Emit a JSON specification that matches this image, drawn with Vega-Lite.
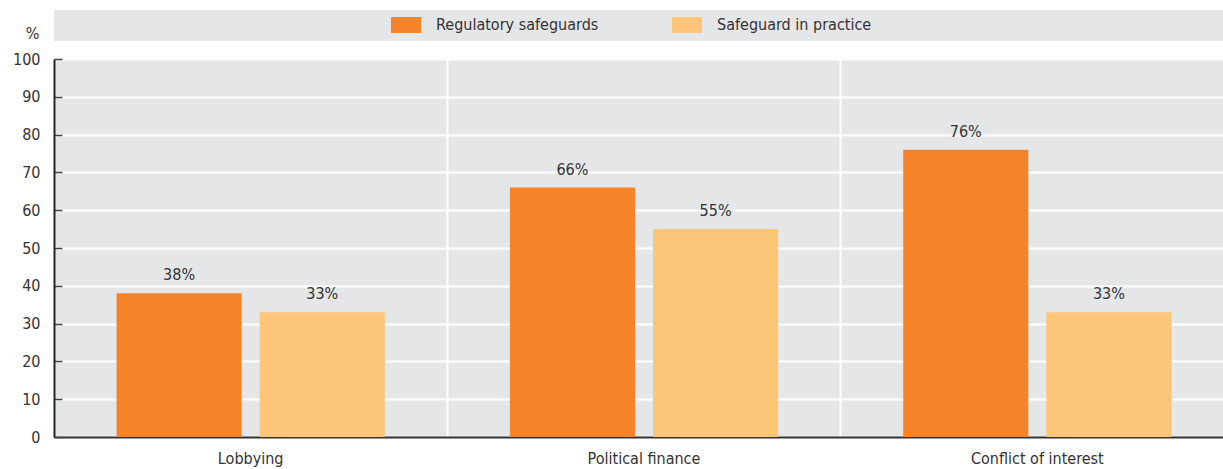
{
  "$schema": "https://vega.github.io/schema/vega-lite/v6.json",
  "padding": {"left": 12, "top": 10, "right": 0, "bottom": 30},
  "background": "white",
  "bounds": "flush",
  "config": {"font": "DejaVu Sans Condensed", "view": {"stroke": null}},
  "spacing": 18,
  "vconcat": [
    {
      "width": 1180,
      "height": 31,
      "view": {"fill": "#e5e6e8", "stroke": null},
      "data": {"values": [{"a": 1}]},
      "mark": {"type": "text", "text": ""},
      "encoding": {}
    },
    {
      "width": 1180,
      "height": 378,
      "view": {"fill": "#e5e6e8", "stroke": null},
      "data": {
        "values": [
          {"topic": "Lobbying", "series": "Regulatory safeguards", "value": 38, "label": "38%"},
          {"topic": "Lobbying", "series": "Safeguard in practice", "value": 33, "label": "33%"},
          {"topic": "Political finance", "series": "Regulatory safeguards", "value": 66, "label": "66%"},
          {"topic": "Political finance", "series": "Safeguard in practice", "value": 55, "label": "55%"},
          {"topic": "Conflict of interest", "series": "Regulatory safeguards", "value": 76, "label": "76%"},
          {"topic": "Conflict of interest", "series": "Safeguard in practice", "value": 33, "label": "33%"}
        ]
      },
      "encoding": {
        "x": {
          "field": "topic", "type": "nominal", "sort": null,
          "scale": {"paddingInner": 0, "paddingOuter": 0},
          "axis": {
            "title": null, "grid": true, "gridColor": "white", "gridWidth": 2, "bandPosition": 0,
            "ticks": false, "domainColor": "#333", "domainWidth": 2, "labelAngle": 0,
            "labelFontSize": 16, "labelColor": "#333", "labelPadding": 13
          }
        },
        "xOffset": {
          "field": "series", "type": "nominal",
          "sort": ["Regulatory safeguards", "Safeguard in practice"],
          "scale": {"paddingInner": 0.126, "paddingOuter": 0.437}
        },
        "y": {
          "field": "value", "type": "quantitative",
          "scale": {"domain": [0, 100]},
          "axis": {
            "title": "%", "titleAngle": 0, "titleX": -22, "titleY": -26, "titleAlign": "center",
            "titleBaseline": "middle", "titleFontSize": 16, "titleFontWeight": "normal", "titleColor": "#333",
            "values": [0, 10, 20, 30, 40, 50, 60, 70, 80, 90, 100],
            "grid": true, "gridColor": "white", "gridWidth": 2,
            "domainColor": "#222", "domainWidth": 2,
            "tickColor": "#444", "tickSize": -8, "tickWidth": 1.5,
            "labelFontSize": 16, "labelColor": "#333", "labelPadding": 22
          }
        }
      },
      "layer": [
        {
          "mark": {"type": "bar", "opacity": 1},
          "encoding": {
            "color": {
              "field": "series", "type": "nominal",
              "scale": {"domain": ["Regulatory safeguards", "Safeguard in practice"], "range": ["#f4832a", "#fcc578"]},
              "legend": {
                "orient": "none", "legendX": 337, "legendY": 0, "direction": "horizontal", "title": null,
                "symbolType": "M-1,-0.53L1,-0.53L1,0.53L-1,0.53Z", "symbolSize": 900,
                "symbolStrokeWidth": 0, "symbolOpacity": 1, "labelLimit": 400,
                "labelFontSize": 16, "labelColor": "#333", "labelOffset": 15, "columnPadding": 73
              }
            }
          }
        },
        {
          "mark": {"type": "text", "baseline": "bottom", "dy": -10, "fontSize": 16, "color": "#333"},
          "encoding": {"text": {"field": "label"}}
        }
      ]
    }
  ]
}
